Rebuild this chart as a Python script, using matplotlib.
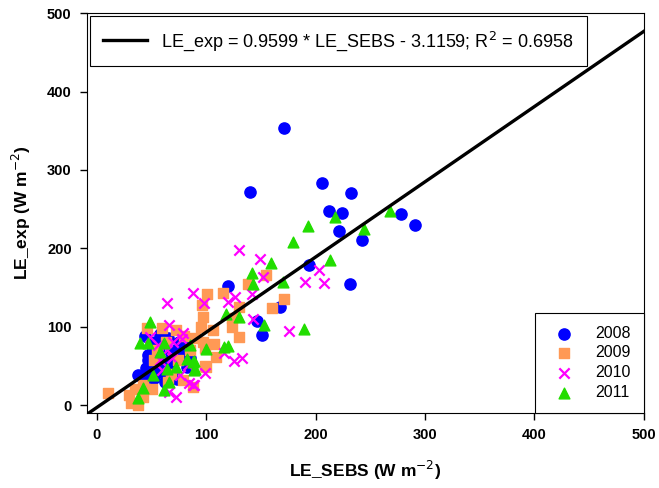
import numpy as np
import matplotlib.pyplot as plt

plt.rcParams['font.family'] = ['Liberation Sans', 'DejaVu Sans']

# LE_SEBS (x), LE_exp (y) per year
x2008 = [171, 140, 206, 232, 212, 224, 221, 242, 278, 291, 194, 231, 120, 167, 146, 151,
         47, 47, 45, 38, 49, 68, 78, 54, 52, 60, 72, 75, 65, 80, 55, 62, 85, 70, 58, 42, 50, 44,
         57, 66, 73, 48, 53, 82, 63]
y2008 = [353, 272, 283, 270, 248, 245, 222, 210, 244, 230, 179, 155, 152, 125, 107, 89,
         64, 58, 47, 38, 36, 66, 62, 41, 34, 52, 70, 80, 85, 75, 48, 30, 60, 45, 90, 36, 75, 88,
         68, 55, 33, 52, 80, 48, 40]

x2009 = [10, 29, 31, 38, 42, 42, 46, 52, 60, 72, 74, 79, 88, 99, 99, 95, 97, 96, 101, 115,
         130, 160, 171, 138, 155, 124, 124, 106, 130, 107, 97, 109, 100, 65, 68, 85, 55, 63,
         80, 90, 50, 35]
y2009 = [15, 13, 3, 0, 10, 26, 98, 57, 98, 96, 57, 32, 23, 50, 73, 100, 112, 128, 142, 143,
         125, 124, 135, 155, 166, 111, 99, 96, 87, 78, 81, 61, 49, 30, 40, 70, 70, 80,
         88, 85, 20, 20]

x2010 = [130, 149, 152, 190, 208, 203, 142, 126, 120, 98, 88, 64, 66, 143, 176, 116, 125,
         133, 99, 88, 79, 56, 70, 78, 64, 58, 69, 83, 76, 84, 66, 89, 49, 72, 60]
y2010 = [198, 186, 163, 157, 156, 172, 142, 138, 131, 130, 143, 130, 102, 110, 95, 67, 56,
         60, 41, 26, 92, 77, 80, 84, 70, 57, 60, 51, 38, 28, 17, 26, 87, 10, 45]

x2011 = [268, 218, 244, 193, 179, 213, 170, 159, 142, 143, 118, 130, 153, 189, 116, 100,
         88, 90, 49, 39, 47, 51, 42, 38, 61, 85, 58, 82, 89, 64, 72, 89, 66, 61, 120]
y2011 = [247, 240, 224, 228, 208, 185, 157, 181, 168, 154, 116, 112, 102, 97, 74, 71,
         55, 46, 106, 79, 79, 38, 22, 9, 79, 77, 68, 59, 56, 46, 48, 45, 29, 19, 75]

slope, intercept = 0.9599, -3.1159
fit_label = 'LE_exp = 0.9599 * LE_SEBS - 3.1159; R$^2$ = 0.6958'

fig = plt.figure(figsize=(6.59, 4.88), dpi=100)
ax = fig.add_axes([0.132, 0.154, 0.845, 0.819])

xmin, xmax = -9, 500
ymin, ymax = -10, 500

xx = np.array([xmin, xmax])
fit_line, = ax.plot(xx, slope * xx + intercept, color='black', lw=2.4, zorder=5)

s08 = ax.scatter(x2008, y2008, s=65, marker='o', color='#0000ff', zorder=3, label='2008')
s09 = ax.scatter(x2009, y2009, s=55, marker='s', color='#ff9955', zorder=3, label='2009')
s10 = ax.scatter(x2010, y2010, s=55, marker='x', color='#ff00ff', linewidths=1.6, zorder=4, label='2010')
s11 = ax.scatter(x2011, y2011, s=60, marker='^', color='#22dd00', zorder=4, label='2011')

ax.set_xlim(xmin, xmax)
ax.set_ylim(ymin, ymax)
ax.set_xticks(np.arange(0, 501, 100))
ax.set_yticks(np.arange(0, 501, 100))
ax.tick_params(direction='out', length=5, width=1, top=False, right=False, pad=6)
for lab in ax.get_xticklabels() + ax.get_yticklabels():
    lab.set_fontweight('bold')
    lab.set_fontsize(10.5)

ax.set_xlabel('LE_SEBS (W m$^{-2}$)', fontsize=12.5, fontweight='bold', labelpad=12)
ax.set_ylabel('LE_exp (W m$^{-2}$)', fontsize=12.5, fontweight='bold', labelpad=10)

leg1 = ax.legend([fit_line], [fit_label], loc='upper left', fontsize=13, fancybox=False,
                 edgecolor='black', framealpha=1, borderaxespad=0.15, handlelength=2.4,
                 borderpad=0.75)
leg1.get_frame().set_linewidth(0.8)
ax.add_artist(leg1)

leg2 = ax.legend(handles=[s08, s09, s10, s11], loc='lower right', fontsize=11.5, fancybox=False,
                 edgecolor='black', framealpha=1, borderaxespad=0, labelspacing=0.3,
                 handletextpad=1.0, borderpad=0.8)
leg2.get_frame().set_linewidth(0.8)

fig.savefig('out.png', dpi=100)
